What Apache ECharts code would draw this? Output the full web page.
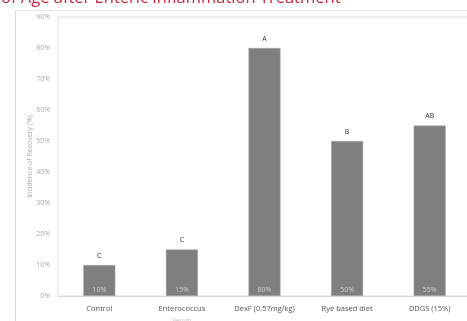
<!DOCTYPE html>
<html>
<head>
<meta charset="utf-8">
<script src="https://cdn.jsdelivr.net/npm/echarts@6/dist/echarts.min.js"></script>
<style>
  html, body { margin: 0; padding: 0; background: #fff; }
  #chart { width: 467px; height: 321px; }
</style>
</head>
<body>
<div id="chart"></div>
<script>
// Recovery incidence per treatment group
const categories = ['Control', 'Enterococcus\nfaecium', 'DexF (0.57mg/kg)', 'Rye based diet', 'DDGS (15%)'];
const recovery = [10, 15, 80, 50, 55];
const groupLetters = ['C', 'C', 'A', 'B', 'AB'];
const yTicks = [0, 10, 20, 30, 40, 50, 60, 70, 80, 90];

const chart = echarts.init(document.getElementById('chart'), null, { renderer: 'canvas' });

chart.setOption({
  backgroundColor: '#fff',
  animation: false,
  graphic: [
    {
      type: 'text',
      left: 1,
      top: -10,
      style: {
        text: 'of Age after Enteric Inflammation Treatment',
        fill: '#c8283c',
        font: '500 16.5px "Open Sans", sans-serif'
      }
    },
    // outer frame of the chart panel
    {
      type: 'line',
      shape: { x1: 15.5, y1: 10.5, x2: 15.5, y2: 321 },
      style: { stroke: '#dcdcdc', lineWidth: 1 }
    },
    {
      type: 'line',
      shape: { x1: 15.5, y1: 10.5, x2: 467, y2: 10.5 },
      style: { stroke: '#e4e4e4', lineWidth: 1 }
    }
  ],
  grid: {
    left: 58, width: 413, top: 17, bottom: 25,
    containLabel: false, outerBoundsMode: 'none',
    show: true, borderColor: '#e0e0e0', borderWidth: 1
  },
  xAxis: {
    type: 'category',
    data: categories,
    axisLine: { show: true, lineStyle: { color: '#d8d8d8' } },
    axisTick: { show: false },
    axisLabel: {
      color: '#555',
      fontFamily: 'Open Sans',
      fontSize: 7.5,
      margin: 7,
      lineHeight: 12,
      formatter: function (v) {
        const parts = v.split('\n');
        return parts.length > 1 ? parts[0] + '\n{s|' + parts[1] + '}' : v;
      },
      rich: { s: { fontSize: 5, color: '#bbb', fontFamily: 'Open Sans' } }
    }
  },
  yAxis: {
    type: 'value',
    min: yTicks[0],
    max: yTicks[yTicks.length - 1],
    interval: 10,
    name: 'Incidence of Recovery (%)',
    nameLocation: 'middle',
    nameGap: 25,
    nameMoveOverlap: false,
    nameTextStyle: { color: '#aaa', fontSize: 7, fontFamily: 'Open Sans' },
    axisLine: { show: false },
    axisTick: { show: false },
    splitLine: { show: false },
    axisLabel: {
      color: '#aaa',
      fontSize: 7,
      fontFamily: 'Open Sans',
      margin: 8,
      formatter: '{value}%'
    }
  },
  series: [
    {
      type: 'bar',
      data: recovery,
      barWidth: 32,
      itemStyle: { color: '#7f7f7f', borderColor: '#a8a8a8', borderWidth: 0.5 },
      label: {
        show: true,
        position: 'insideBottom',
        distance: 3,
        color: '#cfcfcf',
        fontSize: 7,
        fontFamily: 'Open Sans',
        formatter: '{c}%'
      }
    },
    {
      type: 'bar',
      data: recovery,
      barWidth: 32,
      barGap: '-100%',
      silent: true,
      itemStyle: { color: 'rgba(0,0,0,0)' },
      label: {
        show: true,
        position: 'top',
        distance: 6,
        color: '#333',
        fontSize: 7,
        fontFamily: 'Open Sans',
        formatter: function (p) { return groupLetters[p.dataIndex]; }
      }
    }
  ]
});
</script>
</body>
</html>
